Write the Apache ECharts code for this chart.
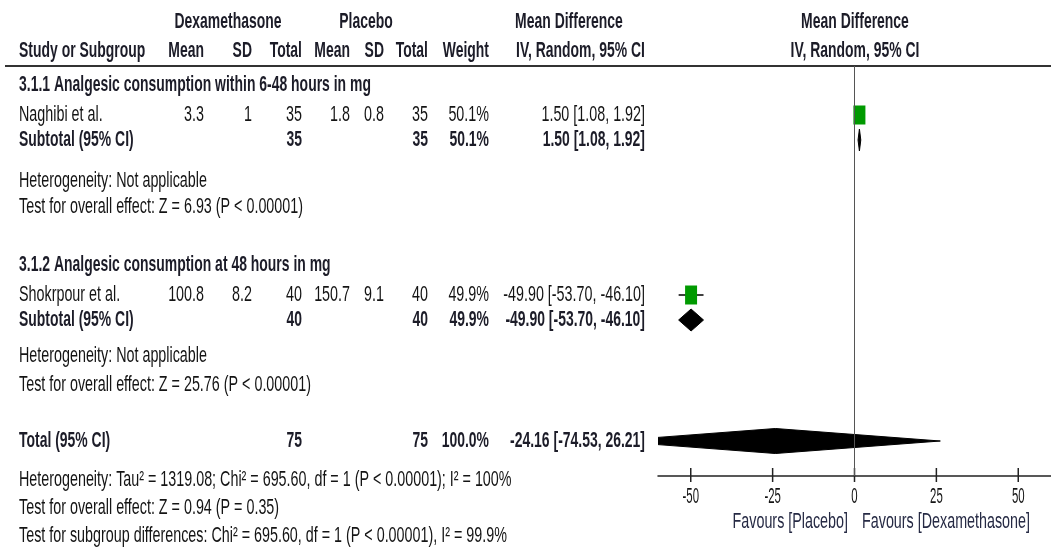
<!DOCTYPE html>
<html>
<head>
<meta charset="utf-8">
<script src="https://cdn.jsdelivr.net/npm/echarts@6/dist/echarts.min.js"></script>
<style>
  html, body { margin: 0; padding: 0; background: #fff; }
  #chart { width: 1051px; height: 550px; }
</style>
</head>
<body>
<div id="chart"></div>
<script>
// ---- study data ----
const studyNames = ['Naghibi et al.', 'Shokrpour et al.'];
const dexMean = [3.3, 100.8];
const dexSD = [1, 8.2];
const dexTotal = [35, 40];
const plaMean = [1.8, 150.7];
const plaSD = [0.8, 9.1];
const plaTotal = [35, 40];
const studyWeight = [50.1, 49.9];
const studyMD = [1.50, -49.90];
const studyLow = [1.08, -53.70];
const studyHigh = [1.92, -46.10];

// ---- subgroups ----
const subgroupTitles = [
  '3.1.1 Analgesic consumption within 6-48 hours in mg',
  '3.1.2 Analgesic consumption at 48 hours in mg'
];
const subDexTotal = [35, 40];
const subPlaTotal = [35, 40];
const subWeight = [50.1, 49.9];
const subMD = [1.50, -49.90];
const subLow = [1.08, -53.70];
const subHigh = [1.92, -46.10];
const subHeterogeneity = ['Heterogeneity: Not applicable', 'Heterogeneity: Not applicable'];
const subOverall = [
  'Test for overall effect: Z = 6.93 (P < 0.00001)',
  'Test for overall effect: Z = 25.76 (P < 0.00001)'
];

// ---- pooled total ----
const totalDex = 75;
const totalPla = 75;
const totalWeight = 100.0;
const totalMD = -24.16;
const totalLow = -74.53;
const totalHigh = 26.21;
const totalNotes = [
  'Heterogeneity: Tau\u00B2 = 1319.08; Chi\u00B2 = 695.60, df = 1 (P < 0.00001); I\u00B2 = 100%',
  'Test for overall effect: Z = 0.94 (P = 0.35)',
  'Test for subgroup differences: Chi\u00B2 = 695.60, df = 1 (P < 0.00001), I\u00B2 = 99.9%'
];

// ---- axis ----
const xTicks = [-50, -25, 0, 25, 50];
const xMin = -60, xMax = 60;
const favourLeft = 'Favours [Placebo]';
const favourRight = 'Favours [Dexamethasone]';

// ---- layout (pixel rows / columns) ----
const FONT = '"Liberation Sans", Arial, sans-serif';
const SY = 1.42;            // tall, narrow type
const SX_REG = 0.955;
const SX_BOLD = 0.93;
const FS = 15;
const TXT = '#141414';
const BOLD = '#1c1c28';
const rowY = {
  head1: 22, head2: 51, rule: 66,
  sg1: 85, st1: 115, sub1: 140, het1: 181, test1: 207,
  sg2: 265, st2: 295, sub2: 320, het2: 356, test2: 385,
  total: 441, n1: 480, n2: 508, n3: 536,
  axis: 476, favour: 522
};
const col = { study: 19, m1: 204, s1: 252, t1: 302, m2: 350, s2: 384, t2: 428, w: 489, ci: 645 };
const plotLeft = 658, plotWidth = 396;

const fmt2 = v => v.toFixed(2);
const ciText = (m, l, h) => fmt2(m) + ' [' + fmt2(l) + ', ' + fmt2(h) + ']';

const texts = [];
function t(str, x, y, align, bold, color) {
  texts.push({
    type: 'text', x: x, y: y, scaleX: bold ? SX_BOLD : SX_REG, scaleY: SY, silent: true,
    style: {
      text: str, x: 0, y: 0, align: align || 'left', verticalAlign: 'middle',
      font: (bold ? 'bold ' : '') + FS + 'px ' + FONT,
      fill: color || (bold ? BOLD : TXT)
    }
  });
}

// header
t('Dexamethasone', 228, rowY.head1, 'center', true);
t('Placebo', 366, rowY.head1, 'center', true);
t('Mean Difference', 569, rowY.head1, 'center', true);
t('Mean Difference', 855, rowY.head1, 'center', true);
t('Study or Subgroup', col.study, rowY.head2, 'left', true);
t('Mean', col.m1, rowY.head2, 'right', true);
t('SD', col.s1, rowY.head2, 'right', true);
t('Total', col.t1, rowY.head2, 'right', true);
t('Mean', col.m2, rowY.head2, 'right', true);
t('SD', col.s2, rowY.head2, 'right', true);
t('Total', col.t2, rowY.head2, 'right', true);
t('Weight', col.w, rowY.head2, 'right', true);
t('IV, Random, 95% CI', col.ci, rowY.head2, 'right', true);
t('IV, Random, 95% CI', 855, rowY.head2, 'center', true);

const sgRows = [
  { sg: rowY.sg1, st: rowY.st1, sub: rowY.sub1, het: rowY.het1, test: rowY.test1 },
  { sg: rowY.sg2, st: rowY.st2, sub: rowY.sub2, het: rowY.het2, test: rowY.test2 }
];

sgRows.forEach((r, i) => {
  t(subgroupTitles[i], col.study, r.sg, 'left', true);
  // study row
  t(studyNames[i], col.study, r.st);
  t(String(dexMean[i]), col.m1, r.st, 'right');
  t(String(dexSD[i]), col.s1, r.st, 'right');
  t(String(dexTotal[i]), col.t1, r.st, 'right');
  t(String(plaMean[i]), col.m2, r.st, 'right');
  t(String(plaSD[i]), col.s2, r.st, 'right');
  t(String(plaTotal[i]), col.t2, r.st, 'right');
  t(studyWeight[i].toFixed(1) + '%', col.w, r.st, 'right');
  t(ciText(studyMD[i], studyLow[i], studyHigh[i]), col.ci, r.st, 'right');
  // subtotal row
  t('Subtotal (95% CI)', col.study, r.sub, 'left', true);
  t(String(subDexTotal[i]), col.t1, r.sub, 'right', true);
  t(String(subPlaTotal[i]), col.t2, r.sub, 'right', true);
  t(subWeight[i].toFixed(1) + '%', col.w, r.sub, 'right', true);
  t(ciText(subMD[i], subLow[i], subHigh[i]), col.ci, r.sub, 'right', true);
  t(subHeterogeneity[i], col.study, r.het);
  t(subOverall[i], col.study, r.test);
});

t('Total (95% CI)', col.study, rowY.total, 'left', true);
t(String(totalDex), col.t1, rowY.total, 'right', true);
t(String(totalPla), col.t2, rowY.total, 'right', true);
t(totalWeight.toFixed(1) + '%', col.w, rowY.total, 'right', true);
t(ciText(totalMD, totalLow, totalHigh), col.ci, rowY.total, 'right', true);
t(totalNotes[0], col.study, rowY.n1);
t(totalNotes[1], col.study, rowY.n2);
t(totalNotes[2], col.study, rowY.n3);

t(favourLeft, 848, rowY.favour, 'right', false, '#262a44');
t(favourRight, 862, rowY.favour, 'left', false, '#262a44');

// header rule
texts.push({
  type: 'line', silent: true,
  shape: { x1: 5, y1: rowY.rule, x2: 1051, y2: rowY.rule },
  style: { stroke: '#333', lineWidth: 2 }
});

// ---- series data ----
const studyRows = [rowY.st1, rowY.st2];
const subRows = [rowY.sub1, rowY.sub2];
const studyData = studyMD.map((m, i) => [m, studyLow[i], studyHigh[i], studyRows[i], studyWeight[i]]);
const diamondData = subMD.map((m, i) => [m, subLow[i], subHigh[i], subRows[i], 11])
  .concat([[totalMD, totalLow, totalHigh, rowY.total, 12.5]]);

const chart = echarts.init(document.getElementById('chart'), null, { renderer: 'canvas' });
chart.setOption({
  animation: false,
  backgroundColor: '#fff',
  grid: { left: plotLeft, top: rowY.rule, width: plotWidth, height: rowY.axis - rowY.rule },
  xAxis: {
    type: 'value', min: xMin, max: xMax,
    axisLine: { show: true, lineStyle: { color: '#222', width: 1.5 } },
    axisTick: { show: false },
    splitLine: { show: false },
    axisLabel: { show: false }
  },
  yAxis: { type: 'value', min: rowY.rule, max: rowY.axis, inverse: true, show: false },
  graphic: texts,
  series: [
    {
      // line of no effect
      type: 'line', data: [], silent: true,
      markLine: {
        symbol: 'none', silent: true, label: { show: false },
        lineStyle: { color: '#555', width: 1, type: 'solid' },
        data: [{ xAxis: 0 }]
      }
    },
    {
      // individual studies: CI whisker + weighted box
      type: 'custom', silent: true, clip: true,
      data: studyData,
      renderItem: function (params, api) {
        const y = api.value(3);
        const pm = api.coord([api.value(0), y]);
        const pl = api.coord([api.value(1), y]);
        const ph = api.coord([api.value(2), y]);
        const w = 12 * Math.sqrt(api.value(4) / 50);
        const h = 19 * Math.sqrt(api.value(4) / 50);
        return {
          type: 'group',
          children: [
            { type: 'line', shape: { x1: pl[0], y1: pl[1], x2: ph[0], y2: ph[1] },
              style: { stroke: '#000', lineWidth: 1.5 } },
            { type: 'rect', shape: { x: pm[0] - w / 2, y: pm[1] - h / 2, width: w, height: h },
              style: { fill: '#009a00' } }
          ]
        };
      }
    },
    {
      // pooled estimates as diamonds
      type: 'custom', silent: true, clip: true,
      data: diamondData,
      renderItem: function (params, api) {
        const y = api.value(3);
        const hh = api.value(4);
        const pm = api.coord([api.value(0), y]);
        const pl = api.coord([api.value(1), y]);
        const ph = api.coord([api.value(2), y]);
        return {
          type: 'polygon',
          shape: { points: [[pl[0], pm[1]], [pm[0], pm[1] - hh], [ph[0], pm[1]], [pm[0], pm[1] + hh]] },
          style: { fill: '#000', stroke: '#000', lineWidth: 1 }
        };
      }
    },
    {
      // crossing tick marks and their labels on the effect axis
      type: 'custom', silent: true, clip: false,
      data: xTicks.map(v => [v, rowY.axis]),
      renderItem: function (params, api) {
        const v = api.value(0);
        const p = api.coord([v, api.value(1)]);
        return {
          type: 'group',
          children: [
            { type: 'line',
              shape: { x1: p[0], y1: p[1] - 8, x2: p[0], y2: p[1] + 6 },
              style: { stroke: '#222', lineWidth: 1.5 } },
            { type: 'text', x: p[0], y: p[1] + 21, scaleX: 0.76, scaleY: 1.45,
              style: { text: String(v), x: 0, y: 0, align: 'center', verticalAlign: 'middle',
                       font: FS + 'px ' + FONT, fill: TXT } }
          ]
        };
      }
    }
  ]
});
</script>
</body>
</html>
